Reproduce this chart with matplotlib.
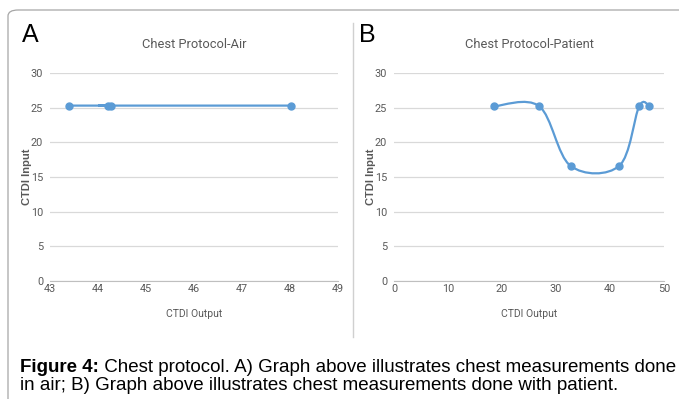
import matplotlib
matplotlib.use('Agg')
import matplotlib.pyplot as plt
from matplotlib.path import Path
from matplotlib.patches import PathPatch, FancyBboxPatch
from matplotlib.lines import Line2D

# data
air_x = [43.4, 44.2, 44.28, 48.02]
air_y = [25.3, 25.3, 25.3, 25.3]
patient_x = [18.5, 26.9, 32.7, 41.7, 45.4, 47.3]
patient_y = [25.2, 25.2, 16.6, 16.6, 25.2, 25.2]

air_ticks = [43, 44, 45, 46, 47, 48, 49]
patient_ticks = [0, 10, 20, 30, 40, 50]
y_ticks = [0, 5, 10, 15, 20, 25, 30]

blue = '#5b9bd5'
grey_txt = '#595959'
narrow = ['Roboto', 'DejaVu Sans']

plt.rcParams['font.family'] = ['Liberation Sans', 'DejaVu Sans']


def smooth_path(xs, ys):
    # excel style smoothed line: cubic bezier, catmull-rom control points
    pts = list(zip(xs, ys))
    n = len(pts)
    verts = [pts[0]]
    codes = [Path.MOVETO]
    for i in range(n - 1):
        p0 = pts[i - 1] if i > 0 else pts[i]
        p1 = pts[i]
        p2 = pts[i + 1]
        p3 = pts[i + 2] if i + 2 < n else pts[i + 1]
        c1 = (p1[0] + (p2[0] - p0[0]) / 6, p1[1] + (p2[1] - p0[1]) / 6)
        c2 = (p2[0] - (p3[0] - p1[0]) / 6, p2[1] - (p3[1] - p1[1]) / 6)
        verts += [c1, c2, p2]
        codes += [Path.CURVE4] * 3
    return Path(verts, codes)


def panel(ax, xs, ys, xticks, title, letter, letter_x, ylab_x):
    ax.set_xlim(xticks[0], xticks[-1])
    ax.set_ylim(0, 30)
    ax.set_xticks(xticks)
    ax.set_yticks(y_ticks)
    for s in ['top', 'right', 'left']:
        ax.spines[s].set_visible(False)
    ax.spines['bottom'].set_color('#bfbfbf')
    ax.grid(axis='y', color='#d9d9d9', lw=0.9)
    ax.set_axisbelow(True)
    ax.tick_params(length=0, labelsize=7.8, labelcolor=grey_txt, pad=5)
    ax.tick_params(axis='x', pad=2)
    for lab in ax.get_xticklabels() + ax.get_yticklabels():
        lab.set_family(narrow)
    ax.add_patch(PathPatch(smooth_path(xs, ys), fc='none', ec=blue, lw=1.6))
    ax.plot(xs, ys, 'o', color=blue, ms=5, zorder=3)
    ax.set_title(title, family=narrow, fontsize=9.3, color=grey_txt, pad=18)
    ax.set_xlabel('CTDI Output', family=narrow, fontsize=7.5, color=grey_txt, labelpad=11)
    ax.set_ylabel('CTDI Input', fontsize=8, weight='bold', color=grey_txt)
    ax.yaxis.set_label_coords(ylab_x, 0.5)
    fig.text(letter_x, 0.912, letter, fontsize=18, color='black', va='center')


fig = plt.figure(figsize=(6.79, 3.99), dpi=100)

ax1 = fig.add_axes([0.0736, 0.2957, 0.4242, 0.5213])
panel(ax1, air_x, air_y, air_ticks, 'Chest Protocol-Air', 'A', 0.033, -0.0625)

ax2 = fig.add_axes([0.5803, 0.2957, 0.3976, 0.5213])
panel(ax2, patient_x, patient_y, patient_ticks, 'Chest Protocol-Patient', 'B', 0.528, -0.067)

# outer frame and separator
fig.patches.append(FancyBboxPatch((8 / 679, -0.1), 1.1, 1.1 - 10 / 399,
                                  boxstyle='round,pad=0,rounding_size=0.015',
                                  transform=fig.transFigure, fc='none',
                                  ec='#a6a6a6', lw=0.9))
fig.lines.append(Line2D([353 / 679, 353 / 679], [1 - 23 / 399, 1 - 337 / 399],
                        transform=fig.transFigure, color='#d0d0d0', lw=1))

# caption
cap = fig.text(20 / 679, 1 - 372 / 399, 'Figure 4:', fontsize=13.5, weight='bold',
               va='baseline')
fig.add_artist(plt.Annotation(' Chest protocol. A) Graph above illustrates chest measurements done',
                              xy=(1, 0), xycoords=cap, fontsize=13.5, va='bottom'))
fig.text(20 / 679, 1 - 390 / 399,
         'in air; B) Graph above illustrates chest measurements done with patient.',
         fontsize=13.5, va='baseline')

fig.savefig('out.png', dpi=100)
